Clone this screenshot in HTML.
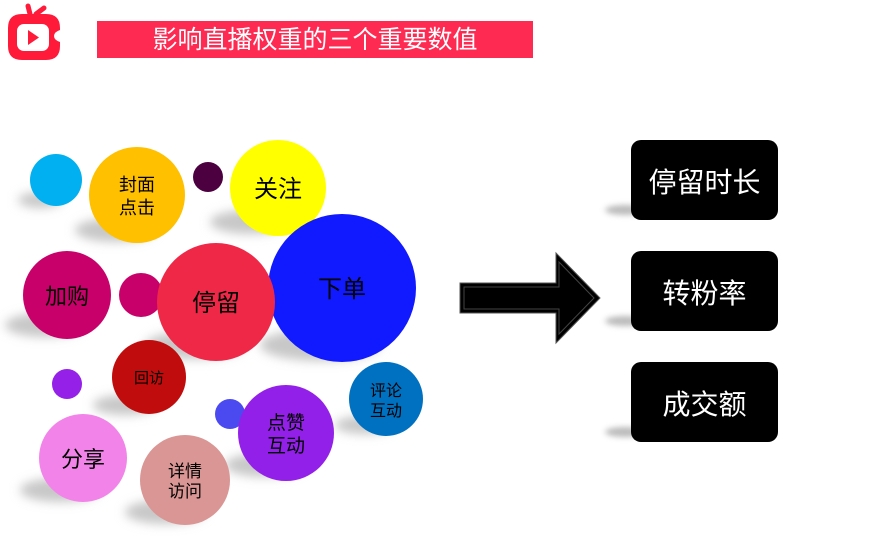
<!DOCTYPE html>
<html><head><meta charset="utf-8"><style>
body{margin:0;width:878px;height:540px;background:#fff;overflow:hidden;position:relative;font-family:"Liberation Sans","Noto Sans CJK SC",sans-serif}
.bar{position:absolute;left:97px;top:21px;width:436px;height:37px;background:#ff2a52;color:#fff;font-size:25px;line-height:39px;text-align:center}
.box{position:absolute;left:631px;width:147px;height:80px;background:#000;border-radius:10px;color:#fff;font-size:28px;line-height:86px;text-align:center}
.sh{position:absolute;left:605px;width:40px;height:10px;background:#bbb;border-radius:50%;filter:blur(3px)}
</style></head><body>
<svg width="878" height="540" style="position:absolute;left:0;top:0">
<defs><filter id="b" x="-50%" y="-50%" width="200%" height="200%"><feGaussianBlur stdDeviation="5"/></filter></defs>
<g fill="#c8c8c8" filter="url(#b)">
<ellipse cx="40" cy="200" rx="22" ry="8"/>
<ellipse cx="115" cy="230" rx="40" ry="12"/>
<ellipse cx="250" cy="222" rx="40" ry="12"/>
<ellipse cx="45" cy="325" rx="40" ry="12"/>
<ellipse cx="195" cy="345" rx="50" ry="14"/>
<ellipse cx="320" cy="345" rx="60" ry="16"/>
<ellipse cx="125" cy="405" rx="32" ry="10"/>
<ellipse cx="365" cy="425" rx="30" ry="9"/>
<ellipse cx="265" cy="465" rx="40" ry="12"/>
<ellipse cx="60" cy="490" rx="40" ry="12"/>
<ellipse cx="165" cy="512" rx="40" ry="12"/>
</g>
<circle cx="56" cy="180" r="26" fill="#00b0f0"/>
<circle cx="137" cy="195" r="48" fill="#ffc000"/>
<circle cx="208" cy="177" r="15" fill="#4d0040"/>
<circle cx="278" cy="188" r="48" fill="#ffff00"/>
<circle cx="342" cy="288" r="74" fill="#1119ff"/>
<circle cx="67" cy="295" r="44" fill="#c8006a"/>
<circle cx="141" cy="295" r="22" fill="#c8006a"/>
<circle cx="216" cy="302" r="59" fill="#f02848"/>
<circle cx="149" cy="377" r="37" fill="#c00c0c"/>
<circle cx="67" cy="384" r="15" fill="#9520e8"/>
<circle cx="386" cy="399" r="37" fill="#0070c0"/>
<circle cx="230" cy="414" r="15" fill="#4a4af0"/>
<circle cx="286" cy="433" r="48" fill="#9320e8"/>
<circle cx="83" cy="458" r="44" fill="#f283e8"/>
<circle cx="185" cy="480" r="45" fill="#d99694"/>
<g fill="#000" text-anchor="middle" font-family="Liberation Sans, Noto Sans CJK SC, sans-serif">
<text x="137" y="191" font-size="18">封面</text><text x="137" y="214" font-size="18">点击</text>
<text x="278" y="197" font-size="24">关注</text>
<text x="342" y="297" font-size="24">下单</text>
<text x="67" y="304" font-size="22">加购</text>
<text x="216" y="311" font-size="24">停留</text>
<text x="149" y="383" font-size="15">回访</text>
<text x="386" y="396" font-size="16">评论</text><text x="386" y="416" font-size="16">互动</text>
<text x="286" y="429" font-size="19">点赞</text><text x="286" y="452" font-size="19">互动</text>
<text x="83" y="467" font-size="22">分享</text>
<text x="185" y="477" font-size="17">详情</text><text x="185" y="497" font-size="17">访问</text>
</g>
<polygon points="460,283 556,283 556,253 600,298 556,343 556,313 460,313" fill="#000" stroke="#555" stroke-width="1"/>
<polygon points="464,287 559,287 559,262 594,298 559,334 559,309 464,309" fill="none" stroke="#444" stroke-width="1"/>
<g transform="translate(8,6)">
<path d="M14 8 L38 8 Q52 8 52 22 L52 24 Q46 26 46 30 Q46 34 52 36 L52 40 Q52 54 38 54 L14 54 Q0 54 0 40 L0 22 Q0 8 14 8Z" fill="#ff1a3a"/>
<path d="M22 8 L20 0 M28 8 L36 2" stroke="#ff1a3a" stroke-width="5" stroke-linecap="round"/>
<rect x="9" y="18" width="32" height="27" rx="7" fill="#fff"/>
<polygon points="20,24 20,39 31,31.5" fill="#ff1a3a"/>
</g>
</svg>
<div class="bar">影响直播权重的三个重要数值</div>
<div class="sh" style="top:205px"></div><div class="sh" style="top:316px"></div><div class="sh" style="top:427px"></div>
<div class="box" style="top:140px">停留时长</div>
<div class="box" style="top:251px">转粉率</div>
<div class="box" style="top:362px">成交额</div>
</body></html>
